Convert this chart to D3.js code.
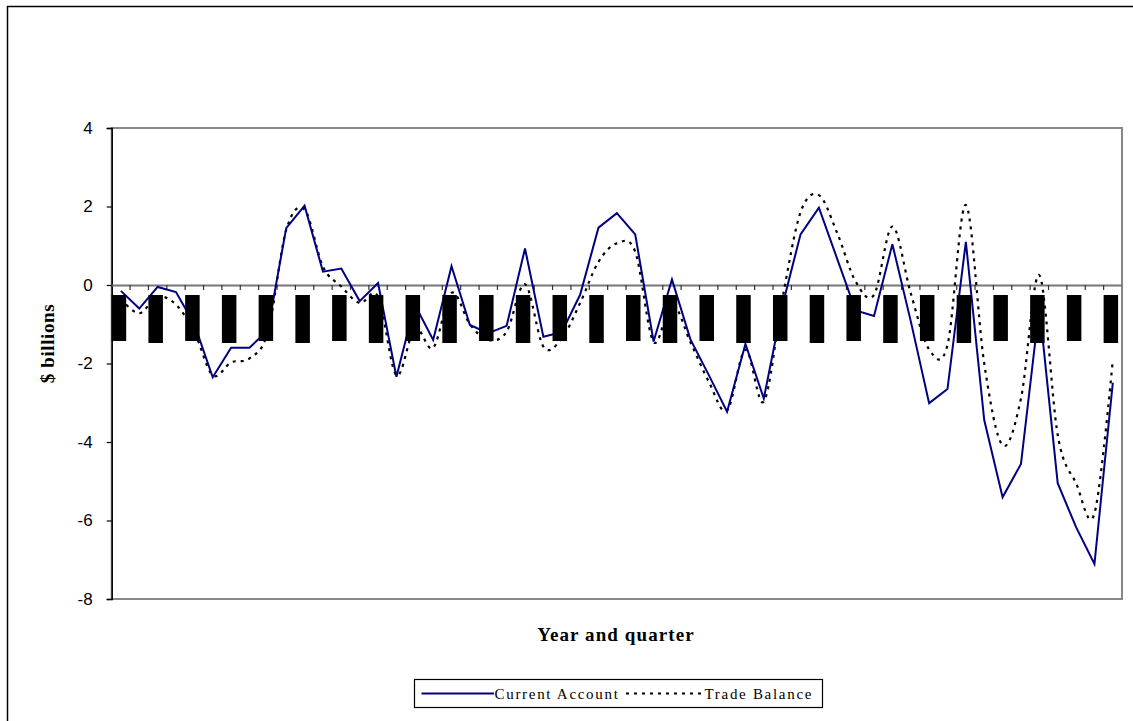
<!DOCTYPE html>
<html>
<head>
<meta charset="utf-8">
<script src="https://cdn.jsdelivr.net/npm/d3@7"></script>
<style>
  html, body { margin: 0; padding: 0; background: #fff; }
  svg { display: block; }
</style>
</head>
<body>
<svg id="chart" width="1133" height="721"></svg>
<script>
// Quarterly series, $ billions
const quarters = d3.range(55).map(i => `${1988 + Math.floor(i / 4)}Q${(i % 4) + 1}`);

const currentAccount = [
  -0.15, -0.60, -0.05, -0.18, -1.00, -2.35, -1.60, -1.60, -1.15, 1.45,
   2.02,  0.34,  0.42, -0.41,  0.05, -2.34, -0.50, -1.40,  0.48, -1.02,
  -1.23, -1.04,  0.93, -1.32, -1.20, -0.25,  1.46,  1.83,  1.29, -1.44,
   0.14, -1.38, -2.29, -3.23, -1.50, -2.89, -0.55,  1.29,  1.97,  0.66,
  -0.65, -0.79,  1.04, -0.92, -3.01, -2.65,  1.10, -3.44, -5.41, -4.56,
  -0.55, -5.05, -6.17, -7.11, -2.49
];

const tradeBalance = [
  -0.35, -0.72, -0.30, -0.50, -1.20, -2.30, -1.97, -1.87, -1.20, 1.40,
   1.92,  0.47, -0.04, -0.46, -0.30, -2.30, -1.10, -1.60, -0.20, -1.00,
  -1.40, -1.19,  0.02, -1.57, -1.36, -0.46,  0.59,  1.06,  0.85, -1.45,
  -0.47, -1.45, -2.46, -3.20, -1.65, -2.97, -0.38,  1.85,  2.29,  1.32,
   0.09, -0.25,  1.49, -0.21, -1.64, -1.53,  2.04, -2.00, -4.08, -2.89,
   0.25, -3.82, -5.05, -5.82, -1.91
];

const yTicks = [4, 2, 0, -2, -4, -6, -8];

const seriesNames = ["Current Account", "Trade Balance"];

const svg = d3.select("#chart");
const W = 1133, H = 721;

// Outer chart frame
svg.append("rect")
  .attr("x", 7.5).attr("y", 6.5)
  .attr("width", W + 20).attr("height", H + 20)
  .attr("fill", "#fff").attr("stroke", "#000").attr("stroke-width", 1.5);

const plot = { left: 111.7, right: 1122, top: 128, bottom: 599 };

const x = d3.scaleBand()
  .domain(quarters)
  .range([plot.left, plot.right])
  .paddingInner(0).paddingOuter(0);

const y = d3.scaleLinear()
  .domain([-8, 4])
  .range([plot.bottom, plot.top]);

const cx = q => x(q) + x.bandwidth() / 2;

// Plot area border
svg.append("rect")
  .attr("x", plot.left).attr("y", plot.top)
  .attr("width", plot.right - plot.left).attr("height", plot.bottom - plot.top)
  .attr("fill", "none").attr("stroke", "#888").attr("stroke-width", 2);

// Value axis
const yAxis = svg.append("g")
  .attr("transform", `translate(${plot.left},0)`)
  .call(d3.axisLeft(y).tickValues(yTicks).tickSize(5).tickPadding(14).tickFormat(d => String(d)));
yAxis.select(".domain").attr("stroke", "#000").attr("stroke-width", 1.5);
yAxis.selectAll(".tick line").attr("stroke", "#000").attr("stroke-width", 1.2);
yAxis.selectAll(".tick text")
  .attr("font-family", "Liberation Sans, Arial, sans-serif")
  .attr("font-size", 17)
  .attr("fill", "#000");

// Category axis crossing at zero
const xAxis = svg.append("g")
  .attr("transform", `translate(0,${y(0)})`)
  .call(d3.axisBottom(x).tickSize(0).tickFormat(""));
xAxis.select(".domain").attr("stroke", "#777").attr("stroke-width", 2);
xAxis.selectAll(".tick").remove();

// Tick marks between categories
svg.append("g")
  .selectAll("line")
  .data(quarters.slice(1))
  .join("line")
  .attr("x1", d => x(d)).attr("x2", d => x(d))
  .attr("y1", y(0)).attr("y2", y(0) + 5)
  .attr("stroke", "#333").attr("stroke-width", 1.2);

// Trade balance: smoothed dotted line
const tbLine = d3.line()
  .x((d, i) => cx(quarters[i]))
  .y(d => y(d))
  .curve(d3.curveCatmullRom.alpha(0));

svg.append("path")
  .datum(tradeBalance)
  .attr("d", tbLine)
  .attr("fill", "none")
  .attr("stroke", "#000")
  .attr("stroke-width", 2.2)
  .attr("stroke-dasharray", "3,5");

// Current account: straight segments
const caLine = d3.line()
  .x((d, i) => cx(quarters[i]))
  .y(d => y(d));

svg.append("path")
  .datum(currentAccount)
  .attr("d", caLine)
  .attr("fill", "none")
  .attr("stroke", "#000080")
  .attr("stroke-width", 2);

// Category label blocks (every second quarter), drawn above the series
svg.append("g")
  .selectAll("rect")
  .data(quarters.filter((d, i) => i % 2 === 0))
  .join("rect")
  .attr("x", d => cx(d) - 9.2)
  .attr("y", y(0) + 10)
  .attr("width", 14.5)
  .attr("height", (d, i) => 46 + (i % 2) * 2)
  .attr("fill", "#000");

// Axis titles
svg.append("text")
  .attr("x", 616).attr("y", 641)
  .attr("text-anchor", "middle")
  .attr("font-family", "Liberation Serif, Times New Roman, serif")
  .attr("font-weight", "bold")
  .attr("font-size", 19)
  .attr("letter-spacing", 1.1)
  .text("Year and quarter");

svg.append("text")
  .attr("transform", `translate(54,${(plot.top + plot.bottom) / 2 - 20}) rotate(-90)`)
  .attr("text-anchor", "middle")
  .attr("font-family", "Liberation Serif, Times New Roman, serif")
  .attr("font-weight", "bold")
  .attr("font-size", 19)
  .attr("letter-spacing", 0.6)
  .text("$ billions");

// Legend
const legend = svg.append("g");
legend.append("rect")
  .attr("x", 414.5).attr("y", 679.5)
  .attr("width", 408).attr("height", 28)
  .attr("fill", "#fff").attr("stroke", "#000").attr("stroke-width", 1.2);

const legendItems = [
  { name: seriesNames[0], x0: 421.5, x1: 494, tx: 494.5, stroke: "#000080", dash: null, w: 2 },
  { name: seriesNames[1], x0: 626, x1: 703, tx: 704.5, stroke: "#000", dash: "3,5", w: 2 }
];
legendItems.forEach(it => {
  legend.append("line")
    .attr("x1", it.x0).attr("x2", it.x1)
    .attr("y1", 693.5).attr("y2", 693.5)
    .attr("stroke", it.stroke).attr("stroke-width", it.w)
    .attr("stroke-dasharray", it.dash);
  legend.append("text")
    .attr("x", it.tx).attr("y", 698.5)
    .attr("font-family", "Liberation Serif, Times New Roman, serif")
    .attr("font-size", 15)
    .attr("letter-spacing", 1.7)
    .text(it.name);
});
</script>
</body>
</html>
